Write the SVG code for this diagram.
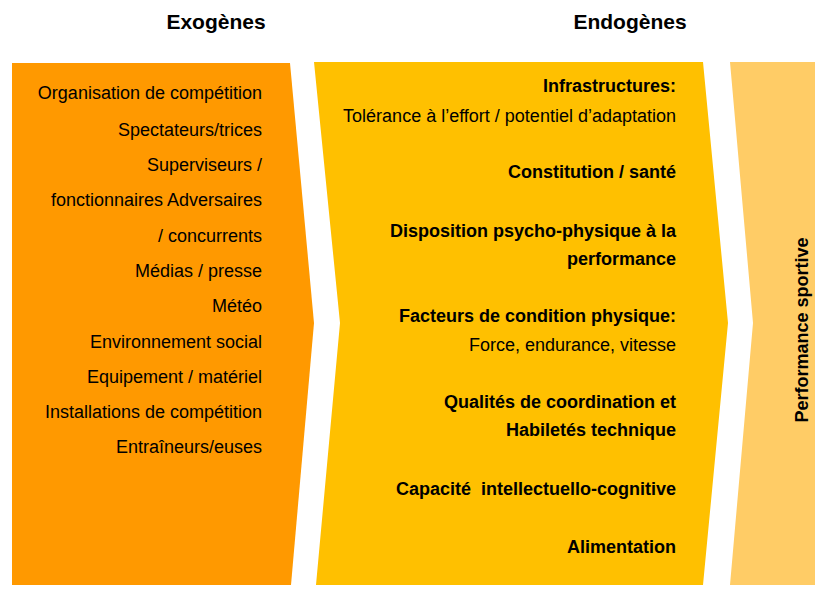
<svg xmlns="http://www.w3.org/2000/svg" width="830" height="595" viewBox="0 0 830 595">
<style>
.t{font-family:"Liberation Sans",Arial,sans-serif;font-size:18px;fill:#000;text-anchor:end;white-space:pre}
.b{font-weight:bold}
.h{font-family:"Liberation Sans",Arial,sans-serif;font-size:21px;font-weight:bold;fill:#000;text-anchor:middle}
</style>
<rect width="830" height="595" fill="#fff"/>
<g id="exogenes">
<path d="M12,63 L290,63 L314,323 L291,585 L12,585 Z" fill="#FF9900"/>
<text class="h" x="216" y="29">Exogènes</text>
<text class="t" x="262" y="99">Organisation de compétition</text>
<text class="t" x="262" y="136">Spectateurs/trices</text>
<text class="t" x="262" y="171">Superviseurs /</text>
<text class="t" x="262" y="206">fonctionnaires Adversaires</text>
<text class="t" x="262" y="242">/ concurrents</text>
<text class="t" x="262" y="277">Médias / presse</text>
<text class="t" x="262" y="312">Météo</text>
<text class="t" x="262" y="348">Environnement social</text>
<text class="t" x="262" y="383">Equipement / matériel</text>
<text class="t" x="262" y="418">Installations de compétition</text>
<text class="t" x="262" y="453">Entraîneurs/euses</text>
</g>
<g id="endogenes">
<path d="M314,62 L703,62 L728,323 L703,585 L316,585 L340,323 Z" fill="#FFC000"/>
<text class="h" x="630" y="29">Endogènes</text>
<text class="t b" x="676" y="92">Infrastructures:</text>
<text class="t" x="676" y="122">Tolérance à l’effort / potentiel d’adaptation</text>
<text class="t b" x="676" y="178">Constitution / santé</text>
<text class="t b" x="676" y="237">Disposition psycho-physique à la</text>
<text class="t b" x="676" y="265">performance</text>
<text class="t b" x="676" y="322">Facteurs de condition physique:</text>
<text class="t" x="676" y="351">Force, endurance, vitesse</text>
<text class="t b" x="676" y="408">Qualités de coordination et</text>
<text class="t b" x="676" y="436">Habiletés technique</text>
<text class="t b" x="676" y="495" xml:space="preserve">Capacité  intellectuello-cognitive</text>
<text class="t b" x="676" y="553">Alimentation</text>
</g>
<g id="performance">
<path d="M730,62 L815,62 L815,585 L730,585 L753,323 Z" fill="#FFCC66"/>
<text x="0" y="0" transform="translate(808,330) rotate(-90)" style="font-family:'Liberation Sans',Arial,sans-serif;font-size:18px;text-anchor:middle;font-weight:bold">Performance sportive</text>
</g>
<g id="connectors"></g>
</svg>
